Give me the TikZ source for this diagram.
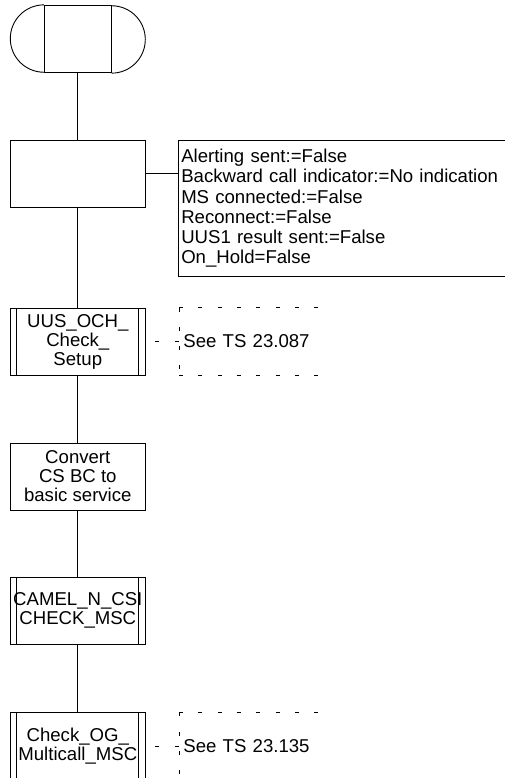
\documentclass[tikz,border=0pt]{standalone}
\usepackage{fontspec}
\setmainfont{Liberation Sans}
\begin{document}
\begin{tikzpicture}[x=1pt,y=1pt,line width=0.9pt,
  txt/.style={font=\fontsize{18.6}{19}\selectfont},
  box/.style={draw, txt, minimum width=134.3pt, minimum height=67pt, inner sep=0pt, align=center},
  proc/.style={box, path picture={
     \draw ([xshift=6pt]path picture bounding box.north west) -- ([xshift=6pt]path picture bounding box.south west);
     \draw ([xshift=-6.7pt]path picture bounding box.north east) -- ([xshift=-6.7pt]path picture bounding box.south east);}},
  note/.style={txt, anchor=west, text width=130pt, inner xsep=4pt, inner ysep=0pt, minimum height=67pt, align=left},
  dsh/.style={dash pattern=on 4pt off 15.3pt, line width=0.8pt}]
\useasboundingbox (0,0) rectangle (504,-778);
% start symbol
\node[draw, minimum width=66.7pt, minimum height=67.4pt, inner sep=0pt] (start) at (77.8,-39) {};
\draw (start.north west) arc[start angle=90, end angle=270, radius=33.7];
\draw (start.south east) arc[start angle=-90, end angle=90, radius=33.7];
% task with comment
\node[box] (b1) at (77.8,-173.5) {};
\node[draw, anchor=north west, text width=334pt, inner xsep=2.5pt, minimum height=135.7pt, align=left,
      font=\fontsize{18.6}{20.2}\selectfont] (c1) at (178.3,-140)
  {Alerting sent:=False\\Backward call indicator:=No indication\\MS connected:=False\\Reconnect:=False\\UUS1 result sent:=False\\On\_Hold=False};
% procedures and tasks
\node[proc] (uus) at (77.8,-341.5) {UUS\_OCH\_\\Check\_\\Setup};
\node[box] (conv) at (77.8,-476.5) {Convert\\CS BC to\\basic service};
\node[proc] (camel) at (77.8,-610.8) {CAMEL\_N\_CSI\\CHECK\_MSC};
\node[proc] (og) at (77.8,-746.2) {Check\_OG\_\\Multicall\_MSC};
% comments
\node[note] (n1) at (179,-341.5) {See TS 23.087};
\node[note] (n2) at (179,-746.2) {See TS 23.135};
\draw[dsh] (n1.north west) -- (n1.north east);
\draw[dsh] (n1.north west) -- (n1.south west);
\draw[dsh] (n1.south west) -- (n1.south east);
\draw[dsh] (n2.north west) -- (n2.north east);
\draw[dsh] (n2.north west) -- (n2.south west);
\draw[dsh] (n2.south west) -- (n2.south east);
% connectors
\draw (start) -- (b1);
\draw (b1) -- (c1.west |- b1.east);
\draw (b1) -- (uus);
\draw (uus) -- (conv);
\draw (conv) -- (camel);
\draw (camel) -- (og);
\draw[dsh, dash phase=-10pt] (uus.east) -- (n1.west);
\draw[dsh, dash phase=-10pt] (og.east) -- (n2.west);
\end{tikzpicture}
\end{document}
